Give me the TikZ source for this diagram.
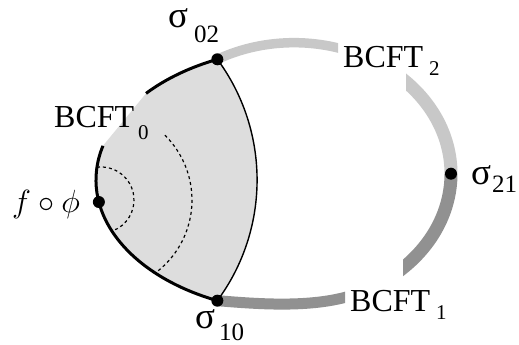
\documentclass[tikz,border=0pt]{standalone}
\usepackage{graphicx}
\usepackage{fontspec}
\setmainfont{Liberation Serif}
\definecolor{fillgray}{RGB}{221,221,221}
\definecolor{lightband}{RGB}{200,200,200}
\definecolor{darkband}{RGB}{145,145,145}
\begin{document}
\begin{tikzpicture}[x=1pt,y=1pt,
  lab/.style={inner sep=0pt, anchor=base west, font=\fontsize{32}{36}\selectfont},
  labsub/.style={inner sep=0pt, anchor=base west, font=\fontsize{21}{24}\selectfont},
  sig/.style={inner sep=0pt, anchor=base west, font=\fontsize{37}{40}\selectfont},
  sigsub/.style={inner sep=0pt, anchor=base west, font=\fontsize{25}{28}\selectfont},
  mathlab/.style={inner sep=0pt, anchor=base west, font=\Huge},
  bdot/.style={circle, fill=black, inner sep=0pt, minimum size=12pt},
  thickblack/.style={line width=3pt},
  dotarc/.style={dash pattern=on 3pt off 3pt, line width=1.2pt}]
\useasboundingbox (0,0) rectangle (519,345);

% key points
\coordinate (E) at (300,165);   % centre of the left boundary ellipse
\coordinate (G) at (294,171.3); % centre of the outer gray ellipse
\coordinate (C) at (101,145);   % centre of the dotted arcs
\path (E) ++(113.9:204 and 132) coordinate (s02);
\path (E) ++(246.1:204 and 132) coordinate (s10);
\path (E) ++(139:204 and 132) coordinate (gtop);
\path (E) ++(165:204 and 132) coordinate (gbot);
\path (E) ++(189.6:204 and 132) coordinate (fphi);
\path (G) ++(0:157 and 131) coordinate (s21);
\path (G) ++(50:157 and 131) coordinate (r1);
\path (G) ++(-66:157 and 131) coordinate (b1);

% shaded region
\fill[fillgray] (s02) arc[start angle=36.45, end angle=-36.45, radius=203.1]
  arc[start angle=246.1, end angle=165, x radius=204, y radius=132]
  -- (gtop) arc[start angle=139, end angle=113.9, x radius=204, y radius=132] -- cycle;

% light gray bands
\begin{scope}
  \clip (0,0) rectangle (338,345) (406,0) rectangle (519,345);
  \draw[lightband, line width=9.5pt] (s02) arc[start angle=119.2, end angle=60, x radius=157, y radius=131];
  \draw[lightband, line width=13pt] (r1) arc[start angle=50, end angle=0, x radius=157, y radius=131];
\end{scope}
% dark gray bands
\begin{scope}
  \clip (0,0) rectangle (345,345) (403,0) rectangle (519,345);
  \draw[darkband, line width=13pt] (s21) arc[start angle=0, end angle=-50, x radius=157, y radius=131];
  \draw[darkband, line width=11pt] (b1) .. controls (315.7,36.1) and (257.4,41.1) .. (s10);
\end{scope}

% boundaries of the shaded region
\draw[line width=1.4pt] (s02) arc[start angle=36.45, end angle=-36.45, radius=203.1];
\draw[thickblack] (s02) arc[start angle=113.9, end angle=139, x radius=204, y radius=132];
\draw[thickblack] (gbot) arc[start angle=165, end angle=246.1, x radius=204, y radius=132];

% dotted arcs
\draw[dotarc] (C) ++(97:33) arc[start angle=97, end angle=-70, radius=33];
\draw[dotarc] (C) ++(45.4:91) arc[start angle=45.4, end angle=-53.5, radius=91];

% dots
\node[bdot] (d02) at (s02) {};
\node[bdot] (d10) at (s10) {};
\node[bdot] (d21) at (s21) {};
\node[bdot] (dphi) at (fphi) {};

% labels
\node[sig] (l02) at (168,317) {σ};
\node[sigsub] (l02s) at (194,302) {02};
\node[sig] (l10) at (195,16) {σ};
\node[sigsub] (l10s) at (219,4) {10};
\node[sig] (l21) at (471,160) {σ};
\node[sigsub] (l21s) at (492,152) {21};
\node[lab] (b2) at (343,277) {BCFT};
\node[labsub] (b2s) at (429,269) {2};
\node[lab] (b1l) at (350,33) {BCFT};
\node[labsub] (b1s) at (436,25) {1};
\node[lab] (b0) at (54,217) {BCFT};
\node[labsub] (b0s) at (138,205) {0};
\node[mathlab] (fp) at (12,132) {\scalebox{1.29}{$f\circ\phi$}};
\end{tikzpicture}
\end{document}
